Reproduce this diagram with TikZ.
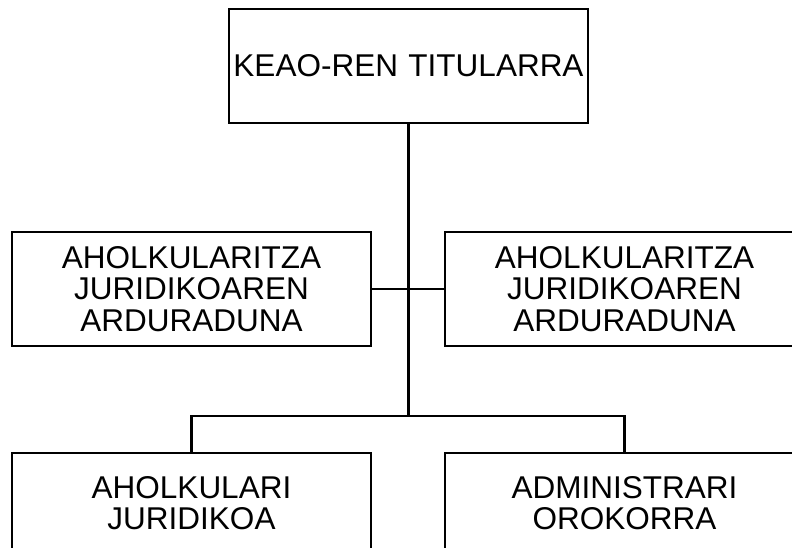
\documentclass[tikz,border=0pt]{standalone}
\usepackage{fontspec}
\setmainfont{Liberation Sans}
\begin{document}
\begin{tikzpicture}[x=1pt,y=-1pt,
  orgbox/.style={draw, line width=2.2pt, inner sep=0pt, text width=359pt, align=center,
    minimum height=114pt, font=\fontsize{31.5pt}{31.5pt}\selectfont},
  lowbox/.style={orgbox, minimum height=100pt},
  conn/.style={line width=2.2pt}]
\useasboundingbox (0,0) rectangle (792,548);
\clip (0,0) rectangle (792,548);
\fill[white] (0,0) rectangle (792,548);
\node[orgbox] (top) at (408.5,66) {KEAO-REN TITULARRA};
\node[orgbox] (lm) at (191.5,289) {AHOLKULARITZA\\JURIDIKOAREN\\ARDURADUNA};
\node[orgbox] (rm) at (624.5,289) {AHOLKULARITZA\\JURIDIKOAREN\\ARDURADUNA};
\node[lowbox, anchor=north] (bl) at (191.5,452) {AHOLKULARI\\JURIDIKOA};
\node[lowbox, anchor=north] (br) at (624.5,452) {ADMINISTRARI\\OROKORRA};
\coordinate (bus) at (top.south |- 0,416);
\draw[conn] (top.south) -- (bus);
\draw[conn] (lm.east) -- (rm.west);
\draw[conn] (bl.north) -- (bl.north |- bus) -- (br.north |- bus) -- (br.north);
\end{tikzpicture}
\end{document}
